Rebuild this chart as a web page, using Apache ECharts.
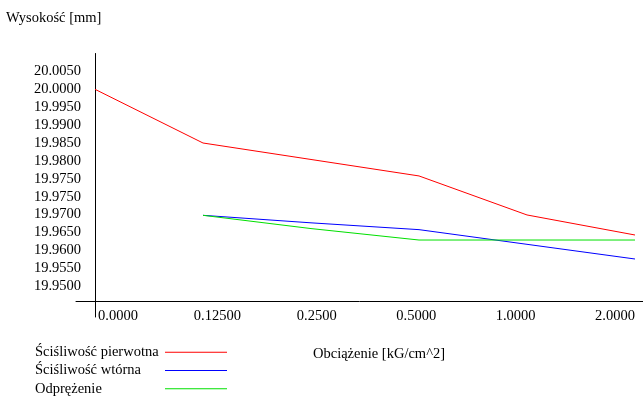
<!DOCTYPE html>
<html>
<head>
<meta charset="utf-8">
<script src="https://cdn.jsdelivr.net/npm/echarts@6/dist/echarts.min.js"></script>
<style>
  html, body { margin: 0; padding: 0; background: #fff; }
  #chart { width: 643px; height: 399px; }
</style>
</head>
<body>
<div id="chart"></div>
<script>
// obciazenie [kG/cm^2]
const loads = ['0.0000', '0.12500', '0.2500', '0.5000', '1.0000', '2.0000'];

// wysokosc [mm]
const primary = [20.0000, 19.9850, 19.9804, 19.9758, 19.9649, 19.9593];
const secondary = [null, 19.9648, 19.9627, 19.9608, 19.9567, 19.9526];
const unloading = [null, 19.9648, 19.9611, 19.9579, 19.9579, 19.9579];

// y tick labels as printed (top to bottom, one every 0.005)
const yLabels = ['20.0050', '20.0000', '19.9950', '19.9900', '19.9850', '19.9800',
  '19.9750', '19.9750', '19.9700', '19.9650', '19.9600', '19.9550', '19.9500'];
const yTop = 20.005;
const yStep = 0.005;

const seriesNames = ['Ściśliwość pierwotna', 'Ściśliwość wtórna', 'Odprężenie'];
const seriesColors = ['#ff0000', '#0000ff', '#00e000'];

const font = 'Liberation Serif';

const myChart = echarts.init(document.getElementById('chart'));

const lineSeries = [primary, secondary, unloading].map((data, i) => ({
  name: seriesNames[i],
  type: 'line',
  data: data,
  symbol: 'none',
  showSymbol: false,
  color: seriesColors[i],
  lineStyle: { width: 1, color: seriesColors[i] },
  emphasis: { disabled: true },
  xAxisIndex: 0,
  yAxisIndex: 0
}));

myChart.setOption({
  animation: false,
  backgroundColor: '#fff',
  textStyle: { fontFamily: font, color: '#000' },
  title: [
    {
      text: 'Wysokość [mm]',
      left: 6,
      top: 11,
      padding: 0,
      textStyle: { fontFamily: font, fontSize: 14.5, fontWeight: 'normal', color: '#000' }
    },
    {
      text: 'Obciążenie [kG/cm^2]',
      left: 313,
      top: 347,
      padding: 0,
      textStyle: { fontFamily: font, fontSize: 14.5, fontWeight: 'normal', color: '#000' }
    }
  ],
  legend: {
    orient: 'vertical',
    left: 35,
    top: 343,
    padding: 0,
    align: 'right',
    icon: 'rect',
    itemWidth: 62,
    itemHeight: 1,
    itemGap: 0,
    selectedMode: false,
    formatter: (name) => '{t|' + name + '}',
    textStyle: {
      fontFamily: font,
      fontSize: 14.5,
      lineHeight: 18.3,
      color: '#000',
      rich: {
        t: { width: 125, align: 'left', fontFamily: font, fontSize: 14.5, lineHeight: 18.3, color: '#000' }
      }
    },
    data: seriesNames
  },
  grid: [
    { left: 95, right: 8, top: 53.5, bottom: 82, outerBoundsMode: 'none' },
    { left: 76, right: 0, top: 300, height: 1, outerBoundsMode: 'none' },
    { left: 118, right: 28, top: 300, height: 1, outerBoundsMode: 'none' }
  ],
  xAxis: [
    {
      gridIndex: 0,
      type: 'category',
      boundaryGap: false,
      data: loads,
      axisLine: { show: false },
      axisTick: { show: false },
      axisLabel: { show: false },
      splitLine: { show: false }
    },
    {
      gridIndex: 1,
      type: 'value',
      position: 'bottom',
      min: 0,
      max: 1,
      axisLine: { show: true, lineStyle: { color: '#000', width: 1 } },
      axisTick: { show: false },
      axisLabel: { show: false },
      splitLine: { show: false }
    },
    {
      gridIndex: 2,
      type: 'category',
      position: 'bottom',
      boundaryGap: false,
      data: loads,
      axisLine: { show: false },
      axisTick: { show: false },
      splitLine: { show: false },
      axisLabel: { margin: 8, fontFamily: font, fontSize: 14.5, color: '#000' }
    }
  ],
  yAxis: [
    {
      gridIndex: 0,
      type: 'value',
      min: 19.9364,
      max: 20.010,
      splitNumber: 15,
      axisLine: { show: true, lineStyle: { color: '#000', width: 1 } },
      axisTick: { show: false },
      splitLine: { show: false },
      axisLabel: {
        margin: 14,
        fontFamily: font,
        fontSize: 14.5,
        color: '#000',
        formatter: (v) => {
          const idx = Math.round((yTop - v) / yStep);
          if (idx < 0 || idx >= yLabels.length) return '';
          if (Math.abs(v - (yTop - idx * yStep)) > 1e-6) return '';
          return yLabels[idx];
        }
      }
    },
    { gridIndex: 1, type: 'value', show: false },
    { gridIndex: 2, type: 'value', show: false }
  ],
  series: lineSeries
});
</script>
</body>
</html>
